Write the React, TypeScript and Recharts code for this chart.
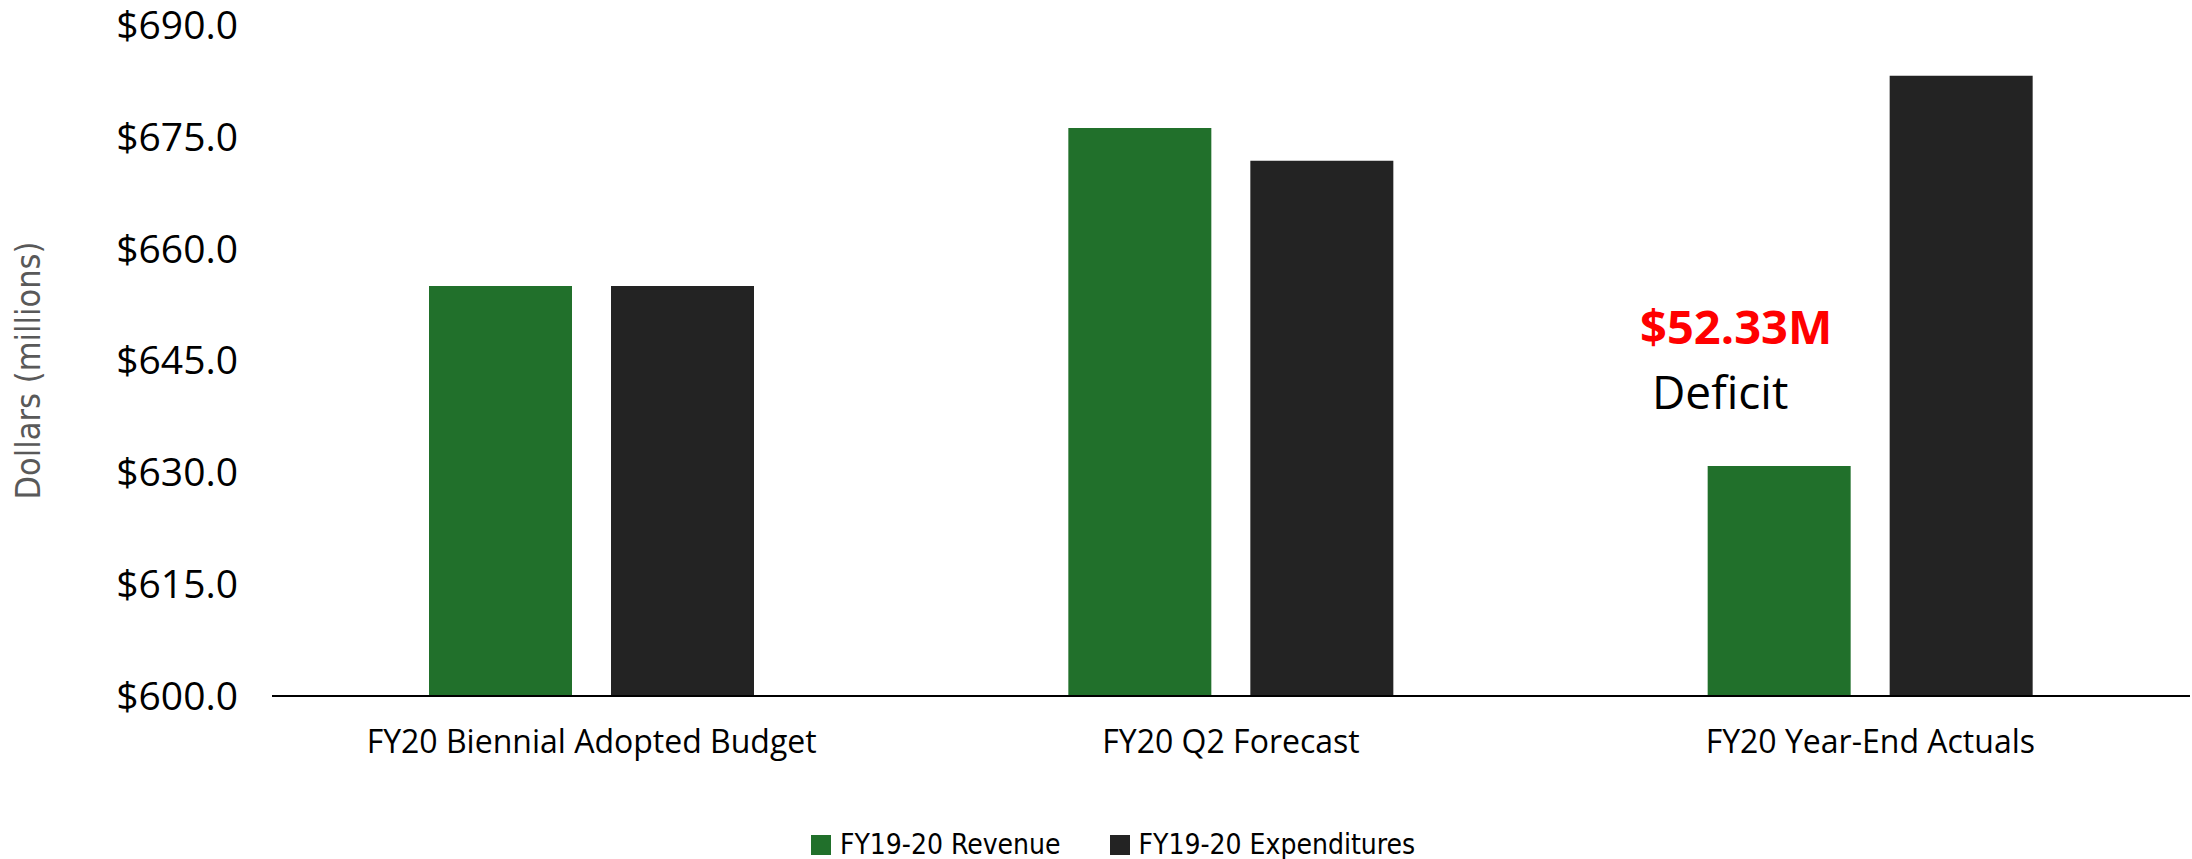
import { Bar, BarChart, LabelList, Legend, XAxis, YAxis } from "recharts";

const categories = ["FY20 Biennial Adopted Budget", "FY20 Q2 Forecast", "FY20 Year-End Actuals"];
const revenue = [655.0, 676.2, 630.86];
const expenditures = [655.0, 671.8, 683.19];
const yTicks = [600, 615, 630, 645, 660, 675, 690];

const GREEN = "#21702b";
const DARK = "#232323";

const data = categories.map((name, i) => ({
  name,
  revenue: revenue[i],
  expenditures: expenditures[i],
}));

const last = categories.length - 1;
const deficit = expenditures[last] - revenue[last];

function DeficitLabel(props: any) {
  const { x, y, width, index } = props;
  if (index !== last) return null;
  const cx = x + width / 2;
  return (
    <g>
      <text x={cx - 43} y={y - 140} textAnchor="middle" dominantBaseline="central"
        fill="#ff0000" fontWeight={700} fontSize={47} fontFamily="'Open Sans', sans-serif">
        {`$${deficit.toFixed(2)}M`}
      </text>
      <text x={cx - 59} y={y - 75} textAnchor="middle" dominantBaseline="central"
        fill="#000" fontSize={46} fontFamily="'Open Sans', sans-serif">
        Deficit
      </text>
    </g>
  );
}

function YTitle(props: any) {
  const vb = props.viewBox || { x: 0, y: 0, height: 0 };
  const x = vb.x + 28;
  const y = vb.y + vb.height / 2 + 10;
  return (
    <text x={x} y={y} transform={`rotate(-90, ${x}, ${y})`} textAnchor="middle" dominantBaseline="central"
      fill="#595959" fontSize={34} fontFamily="'Liberation Sans Narrow', 'DejaVu Sans Condensed', sans-serif">
      Dollars (millions)
    </text>
  );
}

function LegendBox() {
  const items = [
    { label: "FY19-20 Revenue", color: GREEN },
    { label: "FY19-20 Expenditures", color: DARK },
  ];
  return (
    <div style={{ height: 40, display: "flex", justifyContent: "center", alignItems: "flex-end", gap: 49, transform: "translate(18px, 6px)" }}>
      {items.map((it) => (
        <span key={it.label} style={{ display: "flex", alignItems: "center", fontFamily: "'Liberation Sans Narrow', 'DejaVu Sans Condensed', sans-serif", fontSize: 28, lineHeight: "40px", color: "#000" }}>
          <span style={{ display: "inline-block", width: 20, height: 20, background: it.color, marginRight: 9 }} />
          {it.label}
        </span>
      ))}
    </div>
  );
}

export default function App() {
  return (
    <div style={{ position: "absolute", left: 0, top: 0, width: 2192, height: 859, background: "#fff" }}>
      <BarChart width={2192} height={859} data={data} margin={{ top: 25, right: 2, left: 0, bottom: 0 }} barSize={143} barGap={39}>
        <XAxis dataKey="name" height={123} tickLine={false} axisLine={{ stroke: "#000", strokeWidth: 2 }}
          tick={{ fill: "#000", fontSize: 32, fontFamily: "'Open Sans', sans-serif" }} tickMargin={28} interval={0} />
        <YAxis width={272} domain={[600, 690]} ticks={yTicks} allowDataOverflow tickLine={false} axisLine={false}
          tickFormatter={(v: number) => `$${v.toFixed(1)}`} tickMargin={28}
          tick={{ fill: "#000", fontSize: 39, fontFamily: "'Open Sans', sans-serif" }}
          label={{ content: YTitle }} />
        <Legend verticalAlign="bottom" content={() => <LegendBox />} />
        <Bar dataKey="revenue" name="FY19-20 Revenue" fill={GREEN} isAnimationActive={false}>
          <LabelList dataKey="revenue" content={DeficitLabel} />
        </Bar>
        <Bar dataKey="expenditures" name="FY19-20 Expenditures" fill={DARK} isAnimationActive={false} />
      </BarChart>
    </div>
  );
}
